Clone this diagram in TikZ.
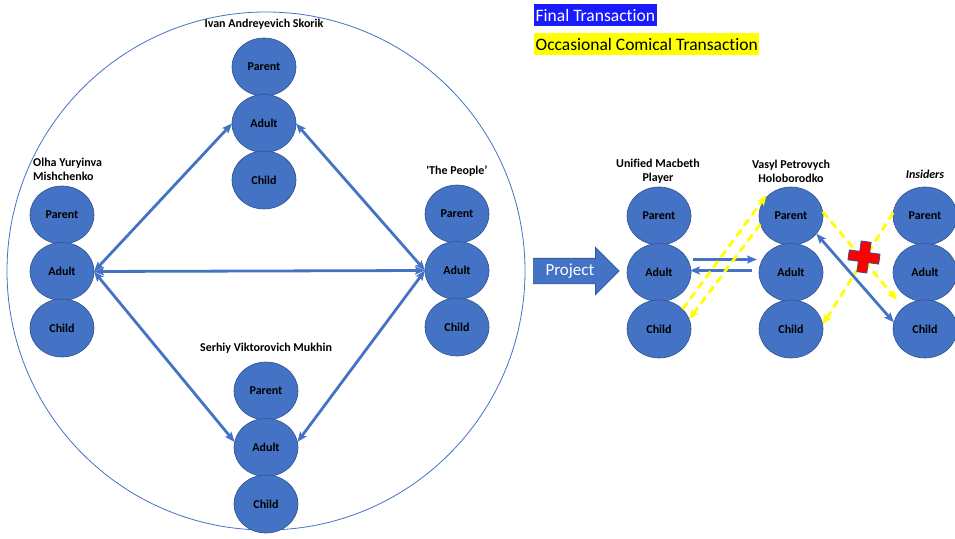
\documentclass[tikz,border=0pt]{standalone}
\usepackage{fontspec}
\setmainfont{Carlito}[Ligatures=NoCommon]
\usetikzlibrary{positioning, shapes.geometric, shapes.arrows, arrows.meta}
\definecolor{egoblue}{HTML}{4472C4}
\definecolor{egoedge}{HTML}{2F528F}
\definecolor{finalblue}{RGB}{26,26,255}
\definecolor{comicyellow}{HTML}{FFFF00}
\tikzset{
    >={Stealth[length=10pt, width=8pt, inset=2pt]}, % Slim arrow heads
    node distance = -1.5pt,                     % Ego states of one person overlap a little
    ego/.style={ellipse, draw=egoedge, line width=0.6pt, fill=egoblue,
        minimum width=64pt, minimum height=58pt, inner sep=0pt, outer sep=0pt,
        font=\fontsize{12}{14}\selectfont\bfseries},  % One ego state
    who/.style={inner sep=0pt, font=\fontsize{12}{14}\selectfont\bfseries}, % Name over a stack
    fin/.style={draw=egoblue, line width=2.8pt},    % Final transaction
    comic/.style={draw=comicyellow, line width=2.8pt, dash pattern=on 8pt off 5pt}, % Comical transaction
    legend/.style={anchor=west, inner xsep=1.5pt, inner ysep=0pt, minimum height=22pt,
        font=\fontsize{17.5}{20}\selectfont},      % Key in the top corner
    project/.style={single arrow, fill=egoblue, draw=egoedge, line width=0.6pt, text=white,
        font=\fontsize{17}{20}\selectfont, minimum height=86pt, single arrow head extend=11pt,
        text height=11pt, text depth=3pt, inner ysep=5.5pt, inner xsep=4pt}
}

\begin{document}
\begin{tikzpicture}[x=1pt, y=-1pt]
            \useasboundingbox (0,0) rectangle (955,538);
            % The country
            \draw[egoblue, line width=0.8pt] (266,271) circle [radius=259pt];

            % Define nodes
            \node [ego] (ivP) at (264,67) {Parent};
            \node [ego, below = of ivP] (ivA) {Adult};
            \node [ego, below = of ivA] (ivC) {Child};
            \node [who] (ivT) at (264,24) {Ivan Andreyevich Skorik};

            \node [ego] (olP) at (62,215) {Parent};
            \node [ego, below = of olP] (olA) {Adult};
            \node [ego, below = of olA] (olC) {Child};
            \node [who, align=left, anchor=west] (olT) at (33,169) {Olha Yuryinva\\Mishchenko};

            \node [ego] (ppP) at (457,214) {Parent};
            \node [ego, below = of ppP] (ppA) {Adult};
            \node [ego, below = of ppA] (ppC) {Child};
            \node [who] (ppT) at (457,171) {\textquotesingle The People’};

            \node [ego] (seP) at (266,391) {Parent};
            \node [ego, below = of seP] (seA) {Adult};
            \node [ego, below = of seA] (seC) {Child};
            \node [who] (seT) at (266,348) {Serhiy Viktorovich Mukhin};

            \node [project, anchor=tail] (proj) at (533,271) {Project};

            \node [ego] (umP) at (659,216) {Parent};
            \node [ego, below = of umP] (umA) {Adult};
            \node [ego, below = of umA] (umC) {Child};
            \node [who, align=center] (umT) at (658,171) {Unified Macbeth\\Player};

            \node [ego] (vaP) at (791,216) {Parent};
            \node [ego, below = of vaP] (vaA) {Adult};
            \node [ego, below = of vaA] (vaC) {Child};
            \node [who, align=center] (vaT) at (791,171) {Vasyl Petrovych\\Holoborodko};

            \node [ego] (inP) at (925,216) {Parent};
            \node [ego, below = of inP] (inA) {Adult};
            \node [ego, below = of inA] (inC) {Child};
            \node [who] (inT) at (925,174) {\textit{Insiders}};

            \node [legend, fill=finalblue, text=white] (keyF) at (534,15) {Final Transaction};
            \node [legend, fill=comicyellow] (keyC) at (534,44) {Occasional Comical Transaction};

            % Draw transitions
            \draw   (olA.east) edge[fin, <->] (ppA.west)
                            edge[fin, <->] (ivA.west)
                            edge[fin, <->] (seA.170)
                    (ivA.east) edge[fin, <->] (ppA.west)
                    (ppA.west) edge[fin, <->] (seA.10);
            \draw   ([xshift=2pt, yshift=13pt]umA.east) edge[fin, ->] ([xshift=-2pt, yshift=13pt]vaA.west)
                    ([xshift=-7pt, yshift=2pt]vaA.west) edge[fin, ->] ([xshift=-1pt, yshift=2pt]umA.east)
                    (vaP.-35) edge[fin, <->] (inC.168);
            \draw   (umC.40) edge[comic, ->] ([xshift=-1pt, yshift=1pt]vaP.140)
                    (vaP.195) edge[comic, ->] (umC.18)
                    (vaP.8) edge[comic, ->] ([xshift=-28pt, yshift=29pt]inC.center)
                    (inP.174) edge[comic, ->] (vaC.8);

            % No way through to the insiders
            \begin{scope}[shift={(864,257)}, rotate=-8]
                \filldraw[fill=red, draw=egoedge, line width=0.8pt]
                    (-5,-15.5) -- (5,-15.5) -- (5,-5) -- (15.5,-5) -- (15.5,5) -- (5,5)
                    -- (5,15.5) -- (-5,15.5) -- (-5,5) -- (-15.5,5) -- (-15.5,-5) -- (-5,-5) -- cycle;
            \end{scope}
        \end{tikzpicture}
\end{document}
